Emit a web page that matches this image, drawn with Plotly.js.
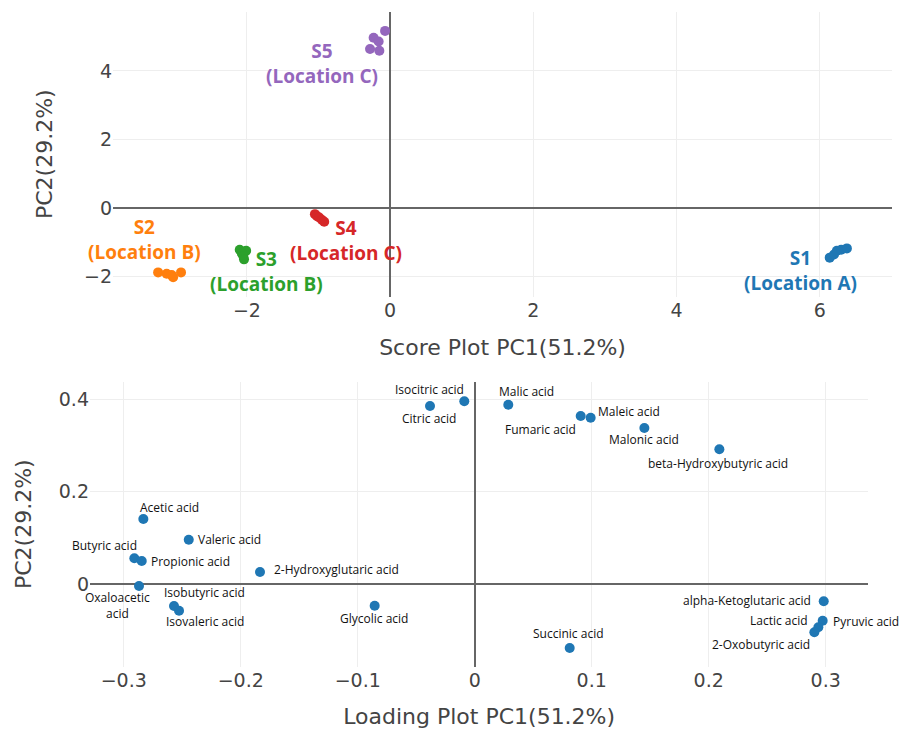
<!DOCTYPE html>
<html>
<head>
<meta charset="utf-8">
<script src="https://cdn.plot.ly/plotly-3.0.1.min.js"></script>
<style>html,body{margin:0;padding:0;background:#fff;}#chart{width:899px;height:734px;}</style>
</head>
<body>
<div id="chart"></div>
<script>
// ---- Score plot data (PC1, PC2) ----
const groupNames = ["S1", "S2", "S3", "S4", "S5"];
const groupLocations = ["Location A", "Location B", "Location B", "Location C", "Location C"];
const s1PC1 = [6.14, 6.20, 6.24, 6.30, 6.38];
const s1PC2 = [-1.45, -1.36, -1.25, -1.22, -1.18];
const s2PC1 = [-3.24, -3.12, -3.05, -3.03, -2.92];
const s2PC2 = [-1.88, -1.92, -1.96, -2.02, -1.88];
const s3PC1 = [-2.10, -2.01, -2.07, -2.05, -2.04];
const s3PC2 = [-1.22, -1.25, -1.33, -1.40, -1.50];
const s4PC1 = [-1.05, -1.02, -0.99, -0.95, -0.92];
const s4PC2 = [-0.18, -0.24, -0.28, -0.35, -0.40];
const s5PC1 = [-0.07, -0.23, -0.16, -0.28, -0.15];
const s5PC2 = [5.17, 4.97, 4.86, 4.64, 4.59];

// ---- Loading plot data ----
const metabolites = ["Acetic acid", "Valeric acid", "Butyric acid", "Propionic acid",
  "2-Hydroxyglutaric acid", "Oxaloacetic<br>acid", "Isobutyric acid", "Isovaleric acid",
  "Glycolic acid", "Citric acid", "Isocitric acid", "Malic acid", "Fumaric acid",
  "Maleic acid", "Malonic acid", "beta-Hydroxybutyric acid", "alpha-Ketoglutaric acid",
  "Pyruvic acid", "Lactic acid", "2-Oxobutyric acid", "Succinic acid"];
const loadPC1 = [-0.2832, -0.2444, -0.2909, -0.2846, -0.1835, -0.2869, -0.2570, -0.2527,
  -0.0855, -0.0382, -0.0089, 0.0287, 0.0906, 0.0991, 0.1450, 0.2091, 0.2983,
  0.2974, 0.2937, 0.2903, 0.0812];
const loadPC2 = [0.1405, 0.0958, 0.0556, 0.0497, 0.0259, -0.0043, -0.0476, -0.0577,
  -0.0469, 0.3849, 0.3950, 0.3877, 0.3632, 0.3596, 0.3373, 0.2912, -0.0374,
  -0.0794, -0.0936, -0.1044, -0.1384];

// ---- styles ----
const groupColors = ["#1f77b4", "#ff7f0e", "#2ca02c", "#d62728", "#9467bd"];
const groupLabelShift = [[-37, -18], [-26, 35], [23, -18], [27, -23], [-55, -22]];
const loadLabelShift = [[26, 12], [41, 0], [-30, 13], [49, 0], [76, 3], [-22, -20], [30, 14],
  [26, -11], [-1, -13], [-1, -13], [-35, 12], [18, 13], [-40, -13], [38, 6], [0, -12],
  [-1, -14], [-77, 1], [43, -1], [-39, 7], [-53, -12], [-1, 15]];

const groupX = [s1PC1, s2PC1, s3PC1, s4PC1, s5PC1];
const groupY = [s1PC2, s2PC2, s3PC2, s4PC2, s5PC2];
const mean = a => a.reduce((s, v) => s + v, 0) / a.length;

const traces = [];
const annotations = [];
groupNames.forEach((g, i) => {
  traces.push({
    type: "scatter", mode: "markers", name: g,
    x: groupX[i], y: groupY[i], xaxis: "x", yaxis: "y",
    marker: {color: groupColors[i], size: 10}
  });
  annotations.push({
    xref: "x", yref: "y", x: mean(groupX[i]), y: mean(groupY[i]),
    xshift: groupLabelShift[i][0], yshift: groupLabelShift[i][1],
    showarrow: false, xanchor: "center", yanchor: "middle",
    text: "<b>" + g + "<br>(" + groupLocations[i] + ")</b>",
    font: {family: "Open Sans", size: 19, color: groupColors[i]}
  });
});

traces.push({
  type: "scatter", mode: "markers", name: "Loadings",
  x: loadPC1, y: loadPC2, xaxis: "x2", yaxis: "y2",
  marker: {color: "#1f77b4", size: 10}
});
metabolites.forEach((m, i) => {
  annotations.push({
    xref: "x2", yref: "y2", x: loadPC1[i], y: loadPC2[i],
    xshift: loadLabelShift[i][0], yshift: loadLabelShift[i][1],
    showarrow: false, xanchor: "center", yanchor: "middle",
    text: m, font: {family: "Open Sans", size: 12, color: "#111"}
  });
});

const axisFont = {family: "DejaVu Sans", size: 19, color: "#444"};
const titleFont = {family: "DejaVu Sans", size: 22, color: "#444"};
const common = {
  showgrid: true, gridcolor: "#eeeeee", gridwidth: 1,
  zeroline: true, zerolinecolor: "#666666", zerolinewidth: 2,
  showline: false, ticks: "", tickfont: axisFont
};

const layout = {
  width: 899, height: 734,
  margin: {l: 0, r: 0, t: 0, b: 0},
  paper_bgcolor: "#fff", plot_bgcolor: "#fff",
  showlegend: false,
  xaxis: Object.assign({}, common, {
    domain: [113 / 899, 892 / 899], anchor: "y",
    range: [-3.87, 7.01], dtick: 2,
    title: {text: "Score Plot PC1(51.2%)", font: titleFont, standoff: 19}
  }),
  yaxis: Object.assign({}, common, {
    domain: [(734 - 296.7) / 734, (734 - 11.7) / 734], anchor: "x",
    range: [-2.59, 5.73], dtick: 2,
    title: {text: "PC2(29.2%)", font: titleFont, standoff: 25}
  }),
  xaxis2: Object.assign({}, common, {
    domain: [90 / 899, 868.3 / 899], anchor: "y2",
    range: [-0.3288, 0.3364], dtick: 0.1,
    title: {text: "Loading Plot PC1(51.2%)", font: titleFont, standoff: 18}
  }),
  yaxis2: Object.assign({}, common, {
    domain: [(734 - 666.7) / 734, (734 - 381.7) / 734], anchor: "x2",
    range: [-0.1788, 0.4374], dtick: 0.2,
    title: {text: "PC2(29.2%)", font: titleFont, standoff: 21}
  }),
  annotations: annotations
};

Plotly.newPlot("chart", traces, layout, {displayModeBar: false, staticPlot: true});
</script>
</body>
</html>
